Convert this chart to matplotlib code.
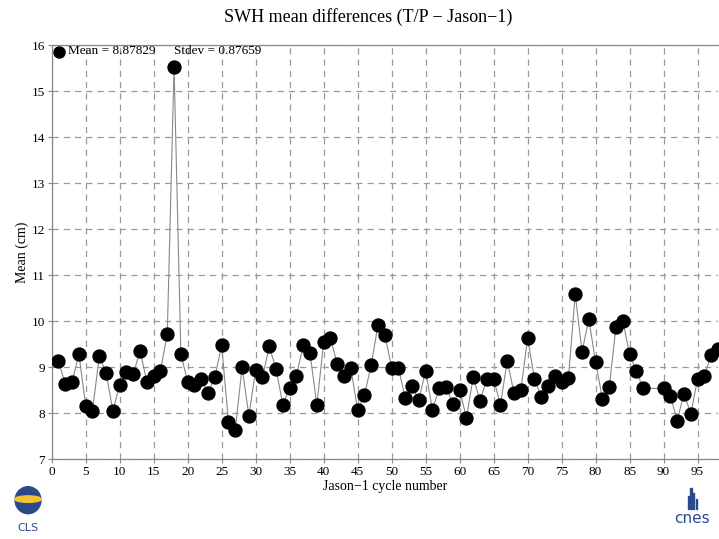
import matplotlib
matplotlib.use("Agg")
import matplotlib.pyplot as plt
from matplotlib.patches import Ellipse, Rectangle

cycles = [1, 2, 3, 4, 5, 6, 7, 8, 9, 10,
          11, 12, 13, 14, 15, 16, 17, 18, 19, 20,
          21, 22, 23, 24, 25, 26, 27, 28, 29, 30,
          31, 32, 33, 34, 35, 36, 37, 38, 39, 40,
          41, 42, 43, 44, 45, 46, 47, 48, 49, 50,
          51, 52, 53, 54, 55, 56, 57, 58, 59, 60,
          61, 62, 63, 64, 65, 66, 67, 68, 69, 70,
          71, 72, 73, 74, 75, 76, 77, 78, 79, 80,
          81, 82, 83, 84, 85, 86, 87, 90,
          91, 92, 93, 94, 95, 96, 97, 98]
mean_cm = [9.13, 8.64, 8.68, 9.29, 8.16, 8.06, 9.24, 8.88, 8.05, 8.62,
           8.90, 8.85, 9.36, 8.68, 8.82, 8.93, 9.72, 15.53, 9.29, 8.68,
           8.62, 8.74, 8.44, 8.79, 9.48, 7.80, 7.64, 9.00, 7.95, 8.94,
           8.78, 9.46, 8.96, 8.18, 8.56, 8.82, 9.48, 9.30, 8.18, 9.54,
           9.63, 9.07, 8.80, 8.98, 8.07, 8.39, 9.06, 9.92, 9.71, 8.99,
           8.99, 8.33, 8.59, 8.29, 8.93, 8.07, 8.54, 8.58, 8.20, 8.51,
           7.90, 8.79, 8.27, 8.74, 8.75, 8.18, 9.14, 8.44, 8.50, 9.64,
           8.75, 8.35, 8.59, 8.80, 8.67, 8.76, 10.59, 9.34, 10.04, 9.12,
           8.31, 8.57, 9.88, 10.01, 9.28, 8.92, 8.54, 8.54,
           8.38, 7.84, 8.43, 7.99, 8.75, 8.81, 9.27, 9.40]

title = "SWH mean differences (T/P \u2212 Jason\u22121)"
xlabel = "Jason\u22121 cycle number"
ylabel = "Mean (cm)"
mean_text = "Mean = 8.87829"
stdev_text = "Stdev = 0.87659"
xticks = list(range(0, 96, 5))
yticks = list(range(7, 17))

plt.rcParams['font.family'] = ['Liberation Serif', 'DejaVu Serif']

fig = plt.figure(figsize=(7.19, 5.39), dpi=100)
ax = fig.add_axes([0.0719, 0.1479, 0.9267, 0.7681])

ax.plot(cycles, mean_cm, color='#888888', linewidth=0.8, zorder=2, clip_on=True)
ax.plot(cycles, mean_cm, linestyle='none', marker='o', markersize=9.3,
        color='black', zorder=3, clip_on=True)

ax.set_xlim(0, 98)
ax.set_ylim(7, 16)
ax.set_xticks(xticks)
ax.set_yticks(yticks)
ax.tick_params(labelsize=9.5, length=3, color='#888888', pad=2)
ax.grid(True, color='#999999', linestyle=(0, (5, 4)), linewidth=0.9)
ax.set_axisbelow(True)
for s in ['left', 'bottom', 'top']:
    ax.spines[s].set_color('#888888')
    ax.spines[s].set_linewidth(0.9)
ax.spines['right'].set_visible(False)

ax.set_xlabel(xlabel, fontsize=10, labelpad=1)
ax.set_ylabel(ylabel, fontsize=10, labelpad=2)
fig.suptitle(title, fontsize=13, x=0.512, y=0.985)

ax.plot([0.0115], [0.984], transform=ax.transAxes, marker='o', markersize=8,
        color='black', clip_on=False, linestyle='none')
ax.text(0.024, 0.985, mean_text, transform=ax.transAxes, fontsize=9.5,
        va='center', ha='left')
ax.text(0.183, 0.985, stdev_text, transform=ax.transAxes, fontsize=9.5,
        va='center', ha='left')

# CLS logo (simplified)
lax = fig.add_axes([0.012, 0.0, 0.06, 0.1], facecolor='none')
lax.set_xlim(0, 1); lax.set_ylim(0, 1); lax.axis('off')
lax.add_patch(Ellipse((0.45, 0.72), 0.6, 0.5, color='#2b4a8c'))
lax.add_patch(Ellipse((0.45, 0.74), 0.62, 0.12, color='#f2c230'))
lax.text(0.45, 0.2, "CLS", ha='center', va='center', fontsize=8,
         color='#2b4a8c', family='DejaVu Sans')

# CNES logo (simplified)
cax = fig.add_axes([0.925, 0.0, 0.075, 0.1], facecolor='none')
cax.set_xlim(0, 1); cax.set_ylim(0, 1); cax.axis('off')
for i, h in enumerate([0.25, 0.4, 0.3, 0.2]):
    cax.add_patch(Rectangle((0.42 + i * 0.05, 0.55), 0.025, h, color='#2b4a8c'))
cax.text(0.5, 0.38, "cnes", ha='center', va='center', fontsize=11,
         color='#2b4a8c', family='DejaVu Sans')

fig.savefig("out.png", dpi=100)
